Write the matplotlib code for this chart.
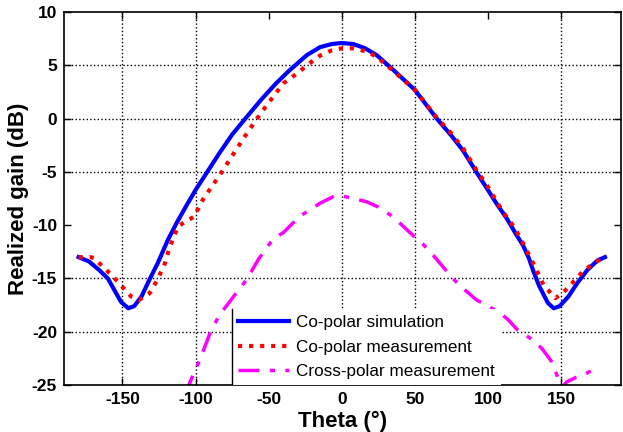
import matplotlib
matplotlib.use("Agg")
import matplotlib.pyplot as plt
from matplotlib.lines import Line2D
import numpy as np

plt.rcParams['font.family'] = ['Liberation Sans', 'DejaVu Sans']
plt.rcParams['axes.unicode_minus'] = False

# Co-polar simulation
theta_sim = [-180, -173, -166, -160, -155.5, -151, -146, -142, -137, -131.5, -126, -119, -113, -106, -100, -92, -84, -75,
             -66, -55, -45, -36, -24, -15, -7, 0, 8, 16, 24, 35, 50, 65, 75, 83, 92, 100, 106, 113, 119, 124,
             128, 131, 135, 138, 141, 145, 149, 155, 161, 168, 175, 180]
gain_sim = [-13.0, -13.4, -14.2, -15.0, -16.1, -17.2, -17.8, -17.6, -16.7, -15.1, -13.6, -11.4, -9.8, -8.1, -6.7, -5.0, -3.3, -1.5,
            0.0, 1.8, 3.3, 4.5, 5.95, 6.7, 7.0, 7.1, 7.0, 6.6, 5.95, 4.6, 2.7, 0.0, -1.6, -3.0, -5.0, -6.7, -8.0, -9.4, -10.8, -11.9,
            -13.1, -14.3, -15.7, -16.5, -17.3, -17.8, -17.6, -16.7, -15.45, -14.2, -13.3, -13.0]

# Co-polar measurement
theta_meas = [-180, -172, -169, -163.5, -156.5, -150, -144, -138.5, -131.5, -126, -121, -118, -112, -106, -101, -95, -88,
              -82, -75, -66, -58, -50, -40, -29, -24, -15, -7, 0, 8, 17, 24, 35, 50, 65, 75, 83, 92, 100, 110,
              118, 124, 131, 138, 146, 151, 157.5, 164.5, 172, 180]
gain_meas = [-13.0, -13.0, -13.1, -13.9, -14.8, -15.8, -16.7, -17.0, -16.4, -15.1, -13.6, -12.2, -10.1, -9.6, -9.2, -7.6, -6.2,
             -5.0, -3.5, -1.6, 0.0, 1.5, 3.3, 4.4, 5.0, 5.9, 6.4, 6.6, 6.6, 6.3, 5.8, 4.5, 2.7, 0.1, -1.4, -2.8, -4.8, -6.4, -8.7,
             -10.2, -11.7, -13.6, -15.6, -16.85, -16.4, -15.45, -14.4, -13.6, -13.0]

# Cross-polar measurement
theta_cross = [-106, -104, -97, -90, -84, -74, -65, -57, -47, -40, -29, -15, -4, 0, 8, 17, 25, 35, 49, 53, 63, 76,
               81, 92, 100, 108, 114, 120, 131, 137, 143, 147, 150, 154, 160, 166, 173]
gain_cross = [-26.0, -24.8, -22.6, -20.1, -18.5, -16.7, -15.1, -13.2, -11.3, -10.7, -9.2, -7.95, -7.2, -7.25, -7.5, -7.8,
              -8.3, -9.2, -11.0, -11.4, -12.9, -15.0, -15.7, -17.0, -17.6, -18.2, -18.9, -19.8, -20.8, -21.6, -22.7,
              -24.0, -25.3, -24.7, -24.3, -24.0, -23.5]

xticks = [-150, -100, -50, 0, 50, 100, 150]
yticks = [-25, -20, -15, -10, -5, 0, 5, 10]
labels = ["Co-polar simulation", "Co-polar measurement", "Cross-polar measurement"]

fig = plt.figure(figsize=(6.23, 4.32), dpi=100)
ax = fig.add_axes([0.1027, 0.1088, 0.8941, 0.8632])

ax.plot(theta_sim, gain_sim, color='#0000ff', lw=3, ls='-', label=labels[0])
ax.plot(theta_meas, gain_meas, color='#ff0000', lw=3, ls=':', label=labels[1])
ax.plot(theta_cross, gain_cross, color='#ff00ff', lw=2.5, ls=(0, (6, 3, 1.5, 3)), label=labels[2])

ax.set_xlim(-190, 191)
ax.set_ylim(-25, 10)
ax.set_xticks(xticks)
ax.set_yticks(yticks)
ax.tick_params(direction='in', top=True, right=True, length=5, width=1,
               labelsize=12.5, pad=5)
for lab in ax.get_xticklabels() + ax.get_yticklabels():
    lab.set_fontweight('bold')

ax.grid(True, color='black', ls=':', lw=1)
# gridlines that are not visible in the reference
for i, t in enumerate(xticks):
    if t in (-50, 100):
        ax.xaxis.get_gridlines()[i].set_visible(False)
for i, t in enumerate(yticks):
    if t in (-10, -25, 10):
        ax.yaxis.get_gridlines()[i].set_visible(False)

for s in ax.spines.values():
    s.set_linewidth(1.2)

ax.set_xlabel("Theta (°)", fontsize=16, fontweight='bold', labelpad=3)
ax.set_ylabel("Realized gain (dB)", fontsize=16, fontweight='bold', labelpad=2)

leg = ax.legend(loc='lower left', bbox_to_anchor=(0.3016, 0.0), borderaxespad=0,
                fontsize=12.3, handlelength=3.0, frameon=True, fancybox=False,
                framealpha=1, edgecolor='white', labelspacing=0.55, borderpad=0.35,
                handletextpad=0.4)
leg.get_frame().set_linewidth(0)

fig.canvas.draw()
bb = leg.get_window_extent().transformed(ax.transAxes.inverted())
ax.add_line(Line2D([bb.x0, bb.x0], [bb.y0, bb.y1], transform=ax.transAxes,
                   color='black', lw=1, zorder=10))

fig.savefig("out.png", dpi=100)
